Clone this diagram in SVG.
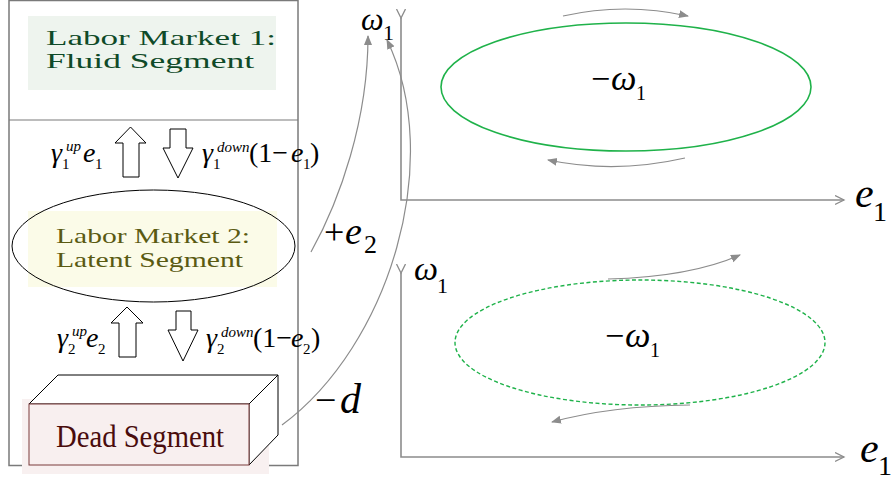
<svg xmlns="http://www.w3.org/2000/svg" width="893" height="480" viewBox="0 0 893 480" font-family="Liberation Serif, serif">
<defs>
<style>
.it{font-style:italic;fill:#000;}
.up{font-style:normal;fill:#000;}
.conn{fill:none;stroke:#8c8c8c;stroke-width:1.2;}
.axis{fill:none;stroke:#8c8c8c;stroke-width:1.6;}
.blk{fill:#fff;stroke:#000;stroke-width:1;}
</style>
<marker id="ah" markerUnits="userSpaceOnUse" markerWidth="12" markerHeight="10" refX="9" refY="4" orient="auto">
<path d="M0,0 L10,4 L0,8 z" fill="#8c8c8c"/>
</marker>
<marker id="ax" markerUnits="userSpaceOnUse" markerWidth="12" markerHeight="12" refX="9" refY="5" orient="auto">
<path d="M0,0.5 L9,5 L0,9.5" fill="none" stroke="#8c8c8c" stroke-width="1.3"/>
</marker>
</defs>
<rect width="893" height="480" fill="#fff"/>

<g id="frame">
<rect x="9" y="0.5" width="289" height="465" fill="none" stroke="#7a7a7a" stroke-width="1.5"/>
<line x1="9" y1="120" x2="298" y2="120" stroke="#7a7a7a" stroke-width="1.2"/>
</g>

<g id="market1">
<rect x="28" y="16" width="248" height="74" fill="#eef4ee"/>
<text x="46" y="45" font-size="21" fill="#0f4a28" textLength="230" lengthAdjust="spacingAndGlyphs">Labor Market 1:</text>
<text x="46" y="68" font-size="21" fill="#0f4a28" textLength="208" lengthAdjust="spacingAndGlyphs">Fluid Segment</text>
</g>

<g id="market2">
<rect x="28" y="211" width="249" height="76" fill="#fbfbe8"/>
<ellipse cx="153.5" cy="246" rx="141.5" ry="56" fill="none" stroke="#000" stroke-width="1"/>
<text x="56" y="243" font-size="21" fill="#5a5a12" textLength="194" lengthAdjust="spacingAndGlyphs">Labor Market 2:</text>
<text x="56" y="267" font-size="21" fill="#5a5a12" textLength="187" lengthAdjust="spacingAndGlyphs">Latent Segment</text>
</g>

<g id="dead">
<rect x="22" y="399" width="247" height="75" fill="#f8f0f0"/>
<polygon class="blk" points="29,404 58,375 278,375 249,404"/>
<polygon class="blk" points="249,404 278,375 278,435 249,465"/>
<rect x="29" y="404" width="220" height="61" fill="#f8efef" stroke="#7b3a3a" stroke-width="1"/>
<text x="56" y="447" font-size="32" fill="#4a0c0c" textLength="168" lengthAdjust="spacingAndGlyphs">Dead Segment</text>
</g>

<g id="flow1">
<polygon class="blk" points="130.5,127 146,143 139,143 139,177 123,177 123,143 115,143"/>
<polygon class="blk" points="170,129 186,129 186,148 193,148 178,178 163,148 170,148"/>
<text class="it" x="51" y="162" font-size="28">γ</text>
<text class="up" x="62" y="169" font-size="15">1</text>
<text class="it" x="66" y="151" font-size="15">up</text>
<text class="it" x="83" y="162" font-size="28">e</text>
<text class="up" x="95" y="169" font-size="15">1</text>
<text class="it" x="202" y="162" font-size="28">γ</text>
<text class="up" x="213" y="169" font-size="15">1</text>
<text class="it" x="217" y="152" font-size="15">down</text>
<text class="up" x="249" y="162" font-size="28">(1−</text>
<text class="it" x="291" y="162" font-size="28">e</text>
<text class="up" x="303" y="169" font-size="15">1</text>
<text class="up" x="310" y="162" font-size="28">)</text>
</g>

<g id="flow2">
<polygon class="blk" points="127,307 143,323 136,323 136,357 119,357 119,323 111,323"/>
<polygon class="blk" points="176,311 191,311 191,330 198,330 183,361 168,330 176,330"/>
<text class="it" x="57" y="347" font-size="28">γ</text>
<text class="up" x="68" y="354" font-size="15">2</text>
<text class="it" x="72" y="336" font-size="15">up</text>
<text class="it" x="86" y="347" font-size="28">e</text>
<text class="up" x="98" y="354" font-size="15">2</text>
<text class="it" x="206" y="347" font-size="28">γ</text>
<text class="up" x="217" y="354" font-size="15">2</text>
<text class="it" x="221" y="337" font-size="15">down</text>
<text class="up" x="253" y="347" font-size="28">(1−</text>
<text class="it" x="291" y="347" font-size="28">e</text>
<text class="up" x="303" y="354" font-size="15">2</text>
<text class="up" x="311" y="347" font-size="28">)</text>
</g>

<g id="plot-top">
<polyline class="axis" points="401,18 401,200 844,200" marker-start="url(#ax)" marker-end="url(#ax)"/>
<ellipse cx="626" cy="87" rx="185" ry="64" fill="none" stroke="#1fb24a" stroke-width="1.6"/>
<text class="it" x="361" y="30" font-size="32">ω</text>
<text class="up" x="383" y="40" font-size="22">1</text>
<text class="up" x="591" y="90" font-size="34">−</text>
<text class="it" x="611" y="90" font-size="36">ω</text>
<text class="up" x="636" y="100" font-size="20">1</text>
<text class="it" x="855" y="207" font-size="42">e</text>
<text class="up" x="873" y="221" font-size="28">1</text>
</g>

<g id="plot-bottom">
<polyline class="axis" points="401,273 401,457 844,457" marker-start="url(#ax)" marker-end="url(#ax)"/>
<ellipse cx="640" cy="342.5" rx="185" ry="62.5" fill="none" stroke="#1fb24a" stroke-width="1.4" stroke-dasharray="4 2.5"/>
<text class="it" x="414" y="280" font-size="34">ω</text>
<text class="up" x="437" y="293" font-size="22">1</text>
<text class="up" x="605" y="347" font-size="34">−</text>
<text class="it" x="625" y="347" font-size="36">ω</text>
<text class="up" x="650" y="357" font-size="20">1</text>
<text class="it" x="860" y="462" font-size="42">e</text>
<text class="up" x="878" y="475" font-size="28">1</text>
</g>

<g id="connectors">
<path class="conn" d="M311,252 C340,200 368,120 368,36" marker-end="url(#ah)"/>
<path class="conn" d="M282,425 C390,345 445,160 387,40" marker-end="url(#ah)"/>
<path class="conn" d="M563,16 Q625,2 688,16" marker-end="url(#ah)"/>
<path class="conn" d="M685,158 Q615,174 548,160" marker-end="url(#ah)"/>
<path class="conn" d="M608,279 Q690,277 740,255" marker-end="url(#ah)"/>
<path class="conn" d="M690,405 Q610,406 552,422" marker-end="url(#ah)"/>
</g>

<g id="edge-labels">
<text class="up" x="324" y="244" font-size="36">+</text>
<text class="it" x="345" y="244" font-size="38">e</text>
<text class="up" x="364" y="253" font-size="26">2</text>
<text class="up" x="315" y="413" font-size="38">−</text>
<text class="it" x="340" y="413" font-size="42">d</text>
</g>
</svg>
